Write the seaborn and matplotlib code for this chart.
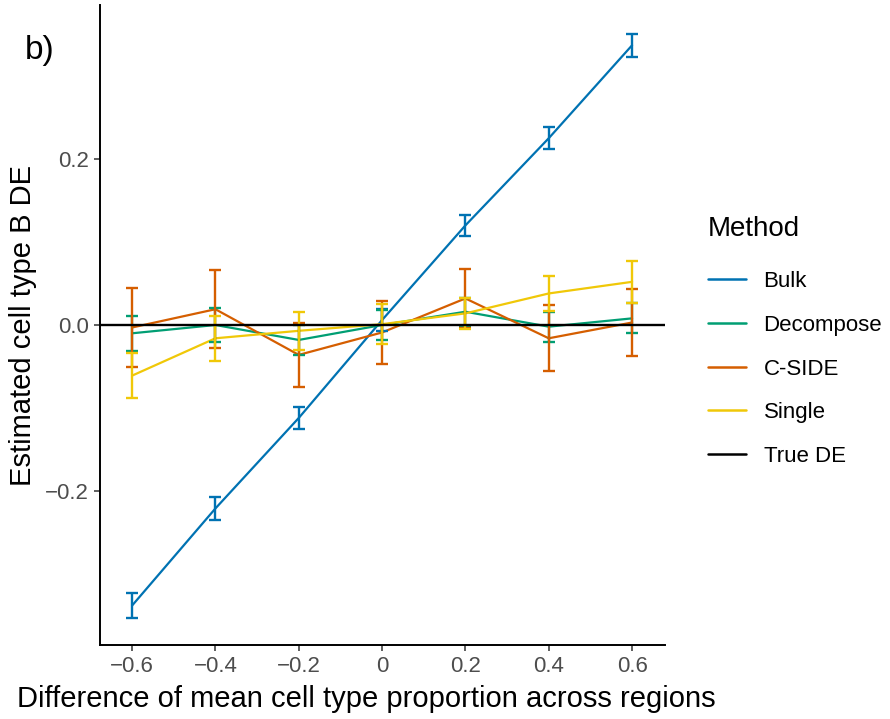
import numpy as np
import pandas as pd
import matplotlib
matplotlib.use("Agg")
import matplotlib.pyplot as plt
import seaborn as sns

# values
x_vals = [-0.6, -0.4, -0.2, 0.0, 0.2, 0.4, 0.6]
methods = ["Bulk", "Decompose", "C-SIDE", "Single"]

bulk_mean = [-0.338, -0.221, -0.112, 0.006, 0.120, 0.225, 0.337]
bulk_err = [0.015, 0.014, 0.013, 0.013, 0.013, 0.013, 0.014]
decomp_mean = [-0.010, 0.000, -0.018, 0.000, 0.016, -0.002, 0.008]
decomp_err = [0.021, 0.020, 0.018, 0.018, 0.017, 0.018, 0.018]
cside_mean = [-0.003, 0.019, -0.036, -0.009, 0.032, -0.016, 0.003]
cside_err = [0.047, 0.047, 0.039, 0.038, 0.036, 0.040, 0.040]
single_mean = [-0.061, -0.016, -0.007, 0.001, 0.014, 0.038, 0.052]
single_err = [0.027, 0.027, 0.023, 0.024, 0.019, 0.021, 0.025]

colors = {"Bulk": "#0072B2", "Decompose": "#009E73", "C-SIDE": "#D55E00",
          "Single": "#F0C808", "True DE": "black"}

means = [bulk_mean, decomp_mean, cside_mean, single_mean]
errs = [bulk_err, decomp_err, cside_err, single_err]
df = pd.DataFrame({
    "x": x_vals * 4,
    "y": sum(means, []),
    "err": sum(errs, []),
    "Method": [m for m in methods for _ in x_vals],
})

sns.set_style("white")
plt.rcParams["font.family"] = ["Liberation Sans", "DejaVu Sans"]
plt.rcParams["text.color"] = "black"
plt.rcParams["axes.labelcolor"] = "black"

fig = plt.figure(figsize=(8.9, 7.19), dpi=100)
ax = fig.add_axes([100 / 890, 74 / 719, 565 / 890, 640 / 719])

sns.lineplot(data=df, x="x", y="y", hue="Method", hue_order=methods,
             palette=colors, linewidth=1.6, ax=ax, legend=False)
for m in methods:
    sub = df[df.Method == m]
    ax.errorbar(sub.x, sub.y, yerr=sub.err, fmt="none", ecolor=colors[m],
                elinewidth=1.7, capsize=4.6, capthick=1.7)
ax.axhline(0, color="black", linewidth=1.7)

ax.set_xlim(-0.677, 0.679)
ax.set_ylim(-0.3855, 0.3855)
ax.set_xticks(x_vals)
ax.set_xticklabels(["\u22120.6", "\u22120.4", "\u22120.2", "0", "0.2", "0.4", "0.6"])
ax.set_yticks([-0.2, 0.0, 0.2])
ax.set_yticklabels(["\u22120.2", "0.0", "0.2"])
ax.tick_params(axis="both", colors="#333333", labelcolor="#4D4D4D", labelsize=16,
               length=4, width=1.1, pad=4, direction="out", bottom=True, left=True)
for s in ["top", "right"]:
    ax.spines[s].set_visible(False)
for s in ["left", "bottom"]:
    ax.spines[s].set_color("black")
    ax.spines[s].set_linewidth(1.4)

ax.set_xlabel("Difference of mean cell type proportion across regions", fontsize=21)
ax.set_ylabel("Estimated cell type B DE", fontsize=21, labelpad=6)
ax.xaxis.set_label_coords((366 - 100) / 565, -0.062)

# legend
handles = [plt.Line2D([0], [0], color=colors[k], linewidth=1.8)
           for k in methods + ["True DE"]]
leg = fig.legend(handles, methods + ["True DE"], title="Method",
                 loc="upper left", bbox_to_anchor=(708 / 890, 1 - 216 / 719),
                 frameon=False, fontsize=16, title_fontsize=20,
                 borderpad=0, borderaxespad=0,
                 handlelength=1.7, labelspacing=1.02, handletextpad=0.8)
leg._legend_box.align = "left"
leg._legend_box.sep = 21

fig.text(25 / 890, 1 - 50 / 719, "b)", fontsize=24, va="center", ha="left")

fig.savefig("out.png", dpi=100)
